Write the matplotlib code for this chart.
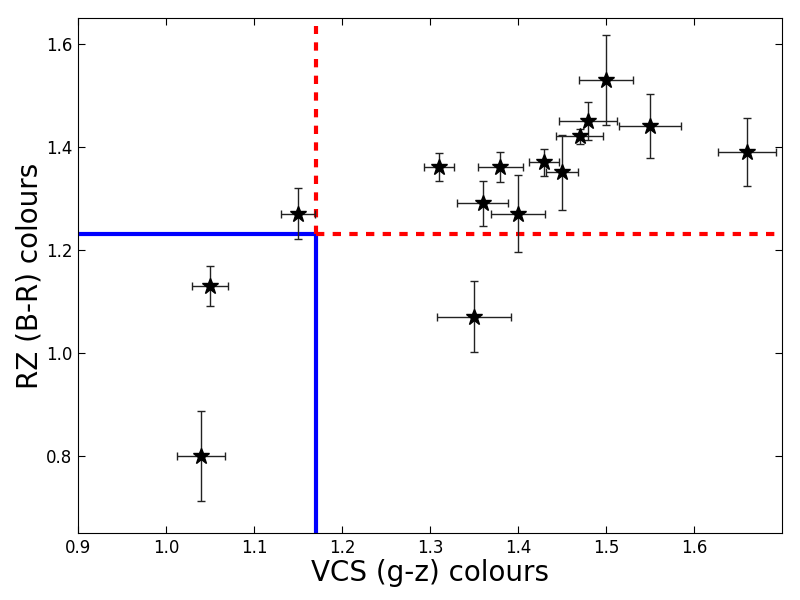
import matplotlib
matplotlib.use("Agg")
import matplotlib.pyplot as plt

vcs = [1.04, 1.05, 1.15, 1.31, 1.38, 1.36, 1.40, 1.43, 1.45, 1.47, 1.48, 1.50, 1.55, 1.66, 1.35]
vcs_err = [0.027, 0.021, 0.019, 0.017, 0.026, 0.029, 0.031, 0.017, 0.018, 0.027, 0.033, 0.031, 0.035, 0.033, 0.042]
rz = [0.80, 1.13, 1.27, 1.36, 1.36, 1.29, 1.27, 1.37, 1.35, 1.42, 1.45, 1.53, 1.44, 1.39, 1.07]
rz_err = [0.087, 0.039, 0.049, 0.027, 0.029, 0.043, 0.075, 0.026, 0.073, 0.014, 0.036, 0.087, 0.062, 0.066, 0.069]

x_cut = 1.17
y_cut = 1.23
red_top = 1.635

xticks = [0.9, 1.0, 1.1, 1.2, 1.3, 1.4, 1.5, 1.6]
yticks = [0.8, 1.0, 1.2, 1.4, 1.6]

fig = plt.figure(figsize=(8, 6), dpi=100)
ax = fig.add_axes([0.0975, 0.1117, 0.88, 0.8583])

ax.errorbar(vcs, rz, xerr=vcs_err, yerr=rz_err, fmt='*', color='black',
            ecolor='#222222', elinewidth=1.0, capsize=3, capthick=1.0,
            markersize=12, zorder=3)

ax.plot([0.9, x_cut], [y_cut, y_cut], color='blue', lw=3, solid_capstyle='butt', zorder=2)
ax.plot([x_cut, x_cut], [0.65, y_cut], color='blue', lw=3, solid_capstyle='butt', zorder=2)
ax.plot([x_cut, 1.7], [y_cut, y_cut], color='red', lw=3, ls='--', dashes=(2, 2), zorder=2)
ax.plot([x_cut, x_cut], [y_cut, red_top], color='red', lw=3, ls='--', dashes=(2, 2), zorder=2)

ax.set_xlim(0.9, 1.7)
ax.set_ylim(0.65, 1.65)
ax.set_xticks(xticks)
ax.set_yticks(yticks)
ax.set_xticklabels([f"{t:.1f}" for t in xticks])
ax.set_yticklabels([f"{t:.1f}" for t in yticks])
ax.tick_params(direction='in', top=True, right=True, length=5, labelsize=12, pad=4)
ax.set_xlabel("VCS (g-z) colours", fontsize=20, labelpad=2)
ax.set_ylabel("RZ (B-R) colours", fontsize=20, labelpad=2)

fig.savefig("out.png", dpi=100)
